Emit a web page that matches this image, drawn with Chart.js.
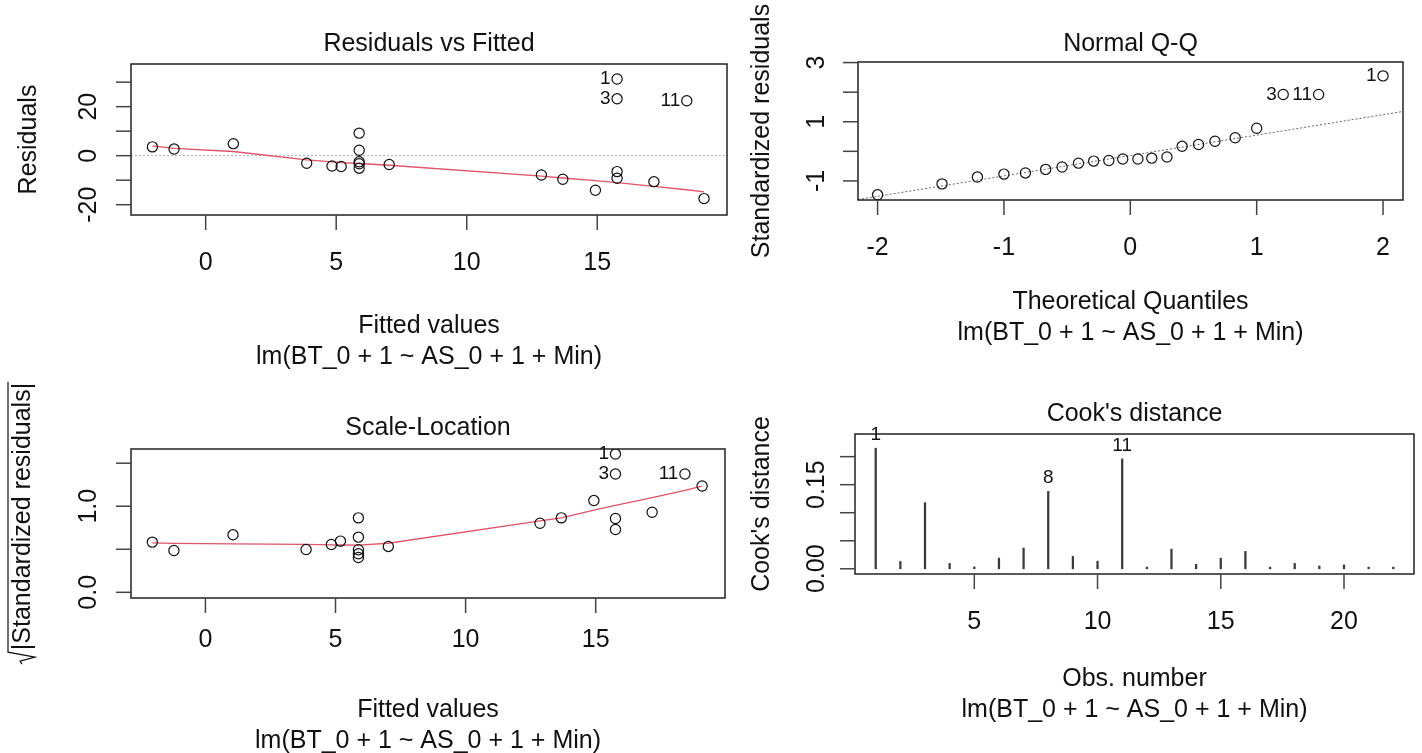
<!DOCTYPE html>
<html>
<head>
<meta charset="utf-8">
<script src="https://cdn.jsdelivr.net/npm/chart.js@4.4.1/dist/chart.umd.min.js"></script>
<style>
  html, body { margin: 0; padding: 0; background: #fff; width: 1422px; height: 753px; overflow: hidden; }
  canvas { position: absolute; }
</style>
</head>
<body>
<canvas id="resFit" width="740" height="376" style="left:0;top:0"></canvas>
<canvas id="normQQ" width="682" height="376" style="left:740px;top:0"></canvas>
<canvas id="scaleLoc" width="740" height="377" style="left:0;top:376px"></canvas>
<canvas id="cooks" width="682" height="377" style="left:740px;top:376px"></canvas>
<script>
// ---- model diagnostics: lm(BT_0 + 1 ~ AS_0 + 1 + Min), 22 observations ----
const modelCall = 'lm(BT_0 + 1 ~ AS_0 + 1 + Min)';

// Residuals vs Fitted (points ordered by fitted value)
const fittedValues = [-2.04, -1.21, 1.06, 3.87, 4.84, 5.19, 5.88, 5.88, 5.88, 5.88, 5.88, 7.03,
                      12.86, 13.68, 14.93, 15.76, 15.76, 15.76, 15.76, 17.17, 18.43, 19.09];
const residuals = [3.6, 2.7, 4.9, -3.1, -4.2, -4.4, 9.2, 2.2, -2.5, -3.3, -5.1, -3.6,
                   -7.9, -9.6, -14.1, 31.3, 23.2, -6.5, -9.2, -10.6, 22.4, -17.5];
const pointIds = ['', '', '', '', '', '', '', '', '', '', '', '',
                  '', '', '', '1', '3', '', '', '', '11', ''];
// lowess smoother through the residuals
const smoothFitted = [-2.04, -1.21, 1.06, 3.87, 4.84, 5.19, 5.88, 7.03, 12.86, 13.68, 14.93, 15.76, 17.17, 18.43, 19.09];
const smoothResiduals = [4.0, 3.0, 1.7, -1.7, -2.5, -2.8, -3.2, -3.9, -8.3, -9.1, -10.2, -11.0, -12.5, -13.9, -14.8];

// Normal Q-Q
const theoreticalQuantiles = [-2.00, -1.49, -1.21, -1.00, -0.83, -0.67, -0.54, -0.41, -0.29, -0.17, -0.06,
                              0.06, 0.17, 0.29, 0.41, 0.54, 0.67, 0.83, 1.00, 1.21, 1.49, 2.00];
const standardizedResiduals = [-1.47, -1.10, -0.87, -0.77, -0.73, -0.61, -0.53, -0.40, -0.33, -0.31, -0.26,
                               -0.26, -0.23, -0.19, 0.17, 0.23, 0.34, 0.46, 0.78, 1.92, 1.92, 2.55];
const qqIds = ['', '', '', '', '', '', '', '', '', '', '', '', '', '', '', '', '', '', '', '3', '11', '1'];
const qqLine = { intercept: -0.141, slope: 0.69 };

// Scale-Location (same order as fittedValues)
const sqrtAbsStdResiduals = [0.583, 0.486, 0.668, 0.498, 0.556, 0.595, 0.865, 0.405, 0.448, 0.494, 0.641, 0.533,
                             0.803, 0.865, 1.066, 1.606, 1.375, 0.730, 0.857, 0.930, 1.375, 1.235];
const smoothScale = [0.575, 0.568, 0.562, 0.556, 0.552, 0.550, 0.548, 0.570, 0.830, 0.865, 0.955, 1.010, 1.100, 1.185, 1.235];

// Cook's distance
const obsNumber = [1, 2, 3, 4, 5, 6, 7, 8, 9, 10, 11, 12, 13, 14, 15, 16, 17, 18, 19, 20, 21, 22];
const cooksDistance = [0.215, 0.013, 0.118, 0.0095, 0.0035, 0.019, 0.037, 0.138, 0.022, 0.0136, 0.196,
                       0.003, 0.035, 0.008, 0.019, 0.031, 0.003, 0.0095, 0.005, 0.007, 0.003, 0.003];
const cookIds = ['1', '', '', '', '', '', '', '8', '', '', '11', '', '', '', '', '', '', '', '', '', '', ''];

// axis ticks and their labels (blank = tick without label)
const fittedTicks = [0, 5, 10, 15];
const residualTicks = [-20, -10, 0, 10, 20, 30];
const residualTickLabels = ['-20', '', '0', '', '20', ''];
const quantileTicks = [-2, -1, 0, 1, 2];
const stdResidTicks = [-1, 0, 1, 2, 3];
const stdResidTickLabels = ['-1', '', '1', '', '3'];
const scaleTicks = [0, 0.5, 1.0, 1.5];
const scaleTickLabels = ['0.0', '', '1.0', ''];
const obsTicks = [5, 10, 15, 20];
const cookTicks = [0, 0.05, 0.10, 0.15, 0.20];
const cookTickLabels = ['0.00', '', '', '0.15', ''];

// ---- drawing helpers ----
const FONT = '"Liberation Sans", Arial, Helvetica, sans-serif';
const INK = '#111';
const SMOOTH_RED = '#DF536B';

function seg(ctx, x1, y1, x2, y2) {
  ctx.beginPath(); ctx.moveTo(x1, y1); ctx.lineTo(x2, y2); ctx.stroke();
}

// base-graphics style frame, ticks, captions and point identifiers
const rPanel = {
  id: 'rPanel',
  afterDatasetsDraw(chart, args, o) {
    const ctx = chart.ctx, a = chart.chartArea, xs = chart.scales.x, ys = chart.scales.y;
    ctx.save();
    ctx.strokeStyle = '#222';
    ctx.lineWidth = 1.5;
    ctx.strokeRect(a.left, a.top, a.right - a.left, a.bottom - a.top);

    ctx.strokeStyle = '#444';
    ctx.lineWidth = 1.5;
    o.xTicks.forEach(v => { const px = xs.getPixelForValue(v); seg(ctx, px, a.bottom, px, a.bottom + 15); });
    o.yTicks.forEach(v => { const py = ys.getPixelForValue(v); seg(ctx, a.left - 15, py, a.left, py); });

    ctx.fillStyle = INK;
    ctx.font = '25px ' + FONT;
    ctx.textAlign = 'center';
    ctx.textBaseline = 'alphabetic';
    o.xTicks.forEach((v, i) => ctx.fillText(o.xLabels[i], xs.getPixelForValue(v), o.xTickY));
    o.yTicks.forEach((v, i) => {
      if (!o.yLabels[i]) return;
      ctx.save();
      ctx.translate(o.yTickX, ys.getPixelForValue(v));
      ctx.rotate(-Math.PI / 2);
      ctx.fillText(o.yLabels[i], 0, 0);
      ctx.restore();
    });

    const cx = (a.left + a.right) / 2;
    ctx.fillText(o.title, cx, o.titleY);
    ctx.fillText(o.xTitle, cx, o.xTitleY);
    ctx.fillText(o.sub, cx, o.subY);

    ctx.save();
    ctx.translate(o.yTitleX, (a.top + a.bottom) / 2);
    ctx.rotate(-Math.PI / 2);
    if (o.radical) {
      const w = ctx.measureText(o.yTitle).width, r = 14, u0 = -(w + r) / 2 + r;
      ctx.textAlign = 'left';
      ctx.fillText(o.yTitle, u0, 0);
      ctx.strokeStyle = INK;
      ctx.lineWidth = 1.2;
      ctx.beginPath();
      ctx.moveTo(u0 - 14, -8);
      ctx.lineTo(u0 - 11, -10);
      ctx.lineTo(u0 - 7, 5);
      ctx.lineTo(u0 - 2, -22);
      ctx.lineTo(u0 + w + 1, -22);
      ctx.stroke();
    } else {
      ctx.fillText(o.yTitle, 0, 0);
    }
    ctx.restore();

    if (o.ids) {
      const meta = chart.getDatasetMeta(o.idDataset);
      ctx.font = '19px ' + FONT;
      ctx.textBaseline = 'middle';
      meta.data.forEach((el, i) => {
        const t = o.ids[i];
        if (!t) return;
        if (o.idAbove) {
          ctx.textAlign = 'center';
          ctx.fillText(t, el.x, el.y - 13.5);
        } else {
          ctx.textAlign = 'right';
          ctx.fillText(t, el.x - 6.5, el.y);
        }
      });
    }
    ctx.restore();
  }
};

function circles(xv, yv) {
  return {
    type: 'scatter',
    data: xv.map((x, i) => ({ x, y: yv[i] })),
    pointStyle: 'circle', pointRadius: 5.1, borderWidth: 1.2,
    borderColor: INK, backgroundColor: 'rgba(0,0,0,0)',
    pointBorderColor: INK, pointBackgroundColor: 'rgba(0,0,0,0)',
    showLine: false
  };
}
function path(xv, yv, color, width, dash) {
  return {
    type: 'line',
    data: xv.map((x, i) => ({ x, y: yv[i] })),
    borderColor: color, borderWidth: width, borderDash: dash || [],
    pointRadius: 0, fill: false, tension: 0, showLine: true
  };
}
function panel(id, type, datasets, xr, yr, pad, deco) {
  return new Chart(document.getElementById(id), {
    type,
    data: { datasets },
    options: {
      responsive: false, animation: false, devicePixelRatio: 1, events: [],
      layout: { padding: pad },
      plugins: { legend: { display: false }, tooltip: { enabled: false }, rPanel: deco },
      scales: {
        x: { type: 'linear', display: false, min: xr[0], max: xr[1], offset: false },
        y: { type: 'linear', display: false, min: yr[0], max: yr[1] }
      }
    },
    plugins: [rPanel]
  });
}

// Residuals vs Fitted
const fitRange = [-2.86, 19.97];
panel('resFit', 'scatter', [
  circles(fittedValues, residuals),
  path(smoothFitted, smoothResiduals, SMOOTH_RED, 1.3),
  path(fitRange, [0, 0], '#aaaaaa', 1, [2, 2])
], fitRange, [-24.2, 37.4], { left: 131, right: 13, top: 64, bottom: 161 }, {
  title: 'Residuals vs Fitted', xTitle: 'Fitted values', sub: modelCall, yTitle: 'Residuals',
  titleY: 51, xTickY: 270, xTitleY: 333, subY: 364, yTickX: 96, yTitleX: 36,
  xTicks: fittedTicks, xLabels: fittedTicks.map(String), yTicks: residualTicks, yLabels: residualTickLabels,
  ids: pointIds, idDataset: 0
});

// Normal Q-Q
const qRange = [-2.155, 2.158];
panel('normQQ', 'scatter', [
  circles(theoreticalQuantiles, standardizedResiduals),
  path(qRange, qRange.map(q => qqLine.intercept + qqLine.slope * q), '#666666', 1, [2, 2])
], qRange, [-1.645, 3.02], { left: 118, right: 19, top: 62, bottom: 176 }, {
  title: 'Normal Q-Q', xTitle: 'Theoretical Quantiles', sub: modelCall, yTitle: 'Standardized residuals',
  titleY: 51, xTickY: 254.5, xTitleY: 308.5, subY: 339.5, yTickX: 84, yTitleX: 29,
  xTicks: quantileTicks, xLabels: quantileTicks.map(String), yTicks: stdResidTicks, yLabels: stdResidTickLabels,
  ids: qqIds, idDataset: 0
});

// Scale-Location
panel('scaleLoc', 'scatter', [
  circles(fittedValues, sqrtAbsStdResiduals),
  path(smoothFitted, smoothScale, SMOOTH_RED, 1.3)
], fitRange, [-0.066, 1.665], { left: 131, right: 15, top: 73, bottom: 155 }, {
  title: 'Scale-Location', xTitle: 'Fitted values', sub: modelCall, yTitle: '|Standardized residuals|', radical: true,
  titleY: 58.5, xTickY: 270.5, xTitleY: 340.5, subY: 372, yTickX: 96, yTitleX: 30,
  xTicks: fittedTicks, xLabels: fittedTicks.map(String), yTicks: scaleTicks, yLabels: scaleTickLabels,
  ids: pointIds, idDataset: 0
});

// Cook's distance
panel('cooks', 'bar', [{
  type: 'bar',
  data: obsNumber.map((x, i) => ({ x, y: cooksDistance[i] })),
  backgroundColor: '#3a3a3a', barThickness: 1.6
}], [0.16, 22.84], [-0.0093, 0.2404], { left: 115, right: 8, top: 58, bottom: 179 }, {
  title: "Cook's distance", xTitle: 'Obs. number', sub: modelCall, yTitle: "Cook's distance",
  titleY: 44.5, xTickY: 252.5, xTitleY: 309.5, subY: 340.5, yTickX: 84, yTitleX: 29,
  xTicks: obsTicks, xLabels: obsTicks.map(String), yTicks: cookTicks, yLabels: cookTickLabels,
  ids: cookIds, idDataset: 0, idAbove: true
});
</script>
</body>
</html>
